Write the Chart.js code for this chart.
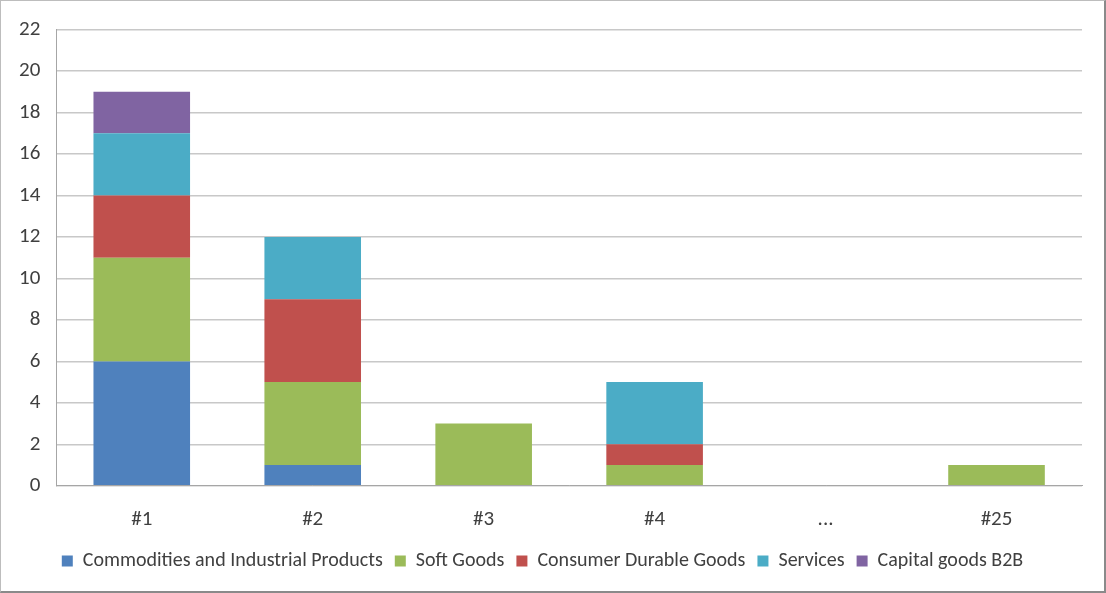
<!DOCTYPE html>
<html>
<head>
<meta charset="utf-8">
<script src="https://cdn.jsdelivr.net/npm/chart.js@4/dist/chart.umd.min.js"></script>
<style>
  html, body { margin: 0; padding: 0; background: #fff; }
  #wrap {
    position: relative; width: 1106px; height: 593px; box-sizing: border-box;
    border: 1px solid #bdbdbd; border-right: 2px solid #8a8a8a; border-bottom: 2px solid #8a8a8a;
  }
  #wrap canvas { display: block; }
</style>
</head>
<body>
<div id="wrap"><canvas id="chart" width="1103" height="590"></canvas></div>
<script>
// Dados ----------------------------------------------------------------------
const categorias = ["#1", "#2", "#3", "#4", "...", "#25"];
const commodities = [6, 1, 0, 0, 0, 0];
const softGoods   = [5, 4, 3, 1, 0, 1];
const consumerDur = [3, 4, 0, 1, 0, 0];
const services    = [3, 3, 0, 3, 0, 0];
const capitalB2B  = [2, 0, 0, 0, 0, 0];
const yTicks = [0, 2, 4, 6, 8, 10, 12, 14, 16, 18, 20, 22];

const font = "Carlito, Calibri, 'Open Sans', 'Liberation Sans', sans-serif";

function ds(label, data, cor) {
  return { label, data, backgroundColor: cor, borderWidth: 0,
           categoryPercentage: 1, barPercentage: 0.565 };
}

new Chart(document.getElementById("chart").getContext("2d"), {
  type: "bar",
  data: {
    labels: categorias,
    datasets: [
      ds("Commodities and Industrial Products", commodities, "#4f81bd"),
      ds("Soft Goods", softGoods, "#9bbb59"),
      ds("Consumer Durable Goods", consumerDur, "#c0504d"),
      ds("Services", services, "#4bacc6"),
      ds("Capital goods B2B", capitalB2B, "#8064a2")
    ]
  },
  options: {
    responsive: false,
    animation: false,
    layout: { padding: { left: 2, right: 22, top: -3, bottom: 10 } },
    plugins: {
      tooltip: { enabled: false },
      legend: {
        position: "bottom",
        labels: {
          color: "#404040", boxWidth: 11, boxHeight: 11, padding: 12,
          font: { family: font, size: 20 }
        }
      }
    },
    scales: {
      x: {
        stacked: true,
        grid: { display: false, tickLength: 14 },
        border: { color: "#a6a6a6", width: 1 },
        ticks: { color: "#404040", padding: 7, font: { family: font, size: 21 } }
      },
      y: {
        stacked: true, min: 0, max: 22,
        afterBuildTicks: axis => { axis.ticks = yTicks.map(v => ({ value: v })); },
        grid: { color: "#c8c8c8", lineWidth: 1.5, drawTicks: false },
        border: { color: "#a6a6a6", width: 1 },
        ticks: { color: "#404040", padding: 16, font: { family: font, size: 21 } }
      }
    }
  }
});
</script>
</body>
</html>
